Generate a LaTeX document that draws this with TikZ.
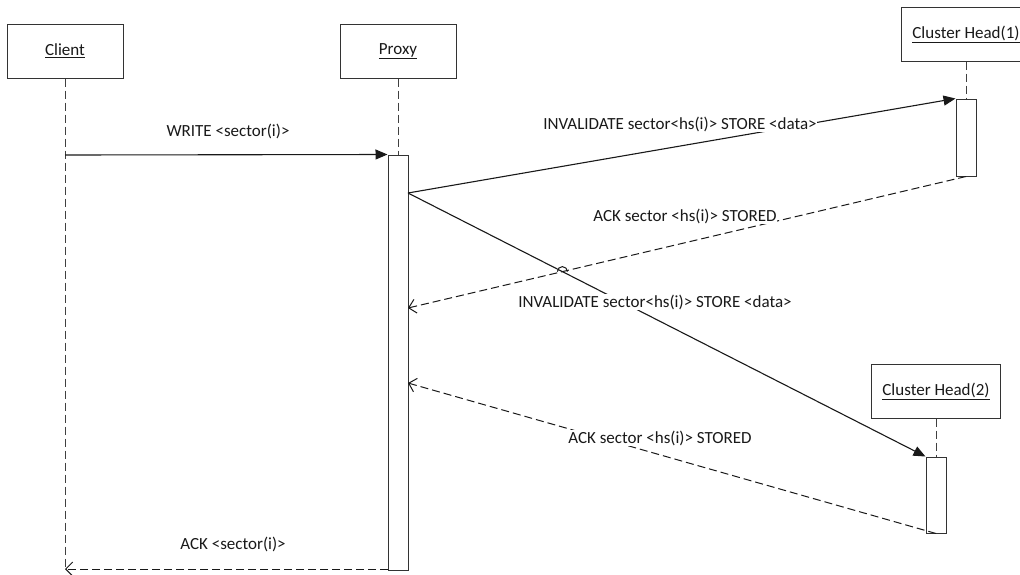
\documentclass[tikz,border=0pt]{standalone}
\usepackage{fontspec}
\setmainfont{Carlito}
\usetikzlibrary{arrows.meta,intersections}

\begin{document}
\begin{tikzpicture}[x=1pt,y=-1pt,
  every node/.style={font=\fontsize{17}{20}\selectfont, text=black!90},
  actor/.style={draw=black!80, line width=1pt, minimum height=54pt, inner sep=0pt, fill=white},
  act/.style={draw=black!80, line width=1pt, fill=white, minimum width=20pt, inner sep=0pt},
  life/.style={draw=black!75, line width=1pt, dash pattern=on 8pt off 4pt},
  call/.style={draw=black!90, line width=1.1pt, -{Triangle[length=12pt,width=10pt]}},
  reply/.style={draw=black!90, line width=1pt, dash pattern=on 8pt off 4pt, -{Straight Barb[length=7pt,width=14pt]}},
  msg/.style={fill=white, inner sep=0.5pt}]

\useasboundingbox (0,0) rectangle (1020,574);

% participants
\node[actor, minimum width=116pt] (cl)  at (65,51)    {\underline{Client}};
\node[actor, minimum width=116pt] (px)  at (398,51)   {\underline{Proxy}};
\node[actor, minimum width=130pt] (ch1) at (966,34)   {\underline{Cluster Head(1)}};
\node[actor, minimum width=129pt] (ch2) at (936,391)  {\underline{Cluster Head(2)}};

% activation bars
\node[act, minimum height=415pt] (pa) at (398,362.5) {};
\node[act, minimum height=77pt]  (a1) at (966,137.5) {};
\node[act, minimum height=76pt]  (a2) at (936,495)   {};

% lifelines
\coordinate (clend) at (65,569);
\draw[life] (cl.south) -- (clend);
\draw[life] (px.south) -- (pa.north);
\draw[life] (ch1.south) -- (a1.north);
\draw[life] (ch2.south) -- (a2.north);

% anchor points on the proxy bar
\coordinate (w1) at (65,155);
\coordinate (p1) at (408,193);
\coordinate (p2) at (408,308);
\coordinate (p3) at (408,383);
\coordinate (p4) at (388,569);

% messages
\draw[call] (w1) -- (pa.north west);
\node at (228,131) {WRITE <sector(i)>};

\draw[call, name path=c1] (p1) -- (a1.north west);
\draw[reply, name path=r1] (a1.south) -- (p2);
\draw[call, name path=c2] (p1) -- (a2.north west);
\draw[reply] (a2.south) -- (p3);
\draw[reply] (p4) -- (clend);

% line hop where the first reply crosses the second call
\path[name intersections={of=r1 and c2, by=X}];
\draw[black!90, line width=1pt] ([shift={(-5,0)}]X) arc[start angle=180, end angle=360, radius=5];

% message labels
\node[msg] at (680,124) {INVALIDATE sector<hs(i)> STORE <data>};
\node[msg] at (685,216) {ACK sector <hs(i)> STORED};
\node[msg] at (655,302) {INVALIDATE sector<hs(i)> STORE <data>};
\node[msg] at (660,438) {ACK sector <hs(i)> STORED};
\node at (233,544) {ACK <sector(i)>};
\end{tikzpicture}
\end{document}
